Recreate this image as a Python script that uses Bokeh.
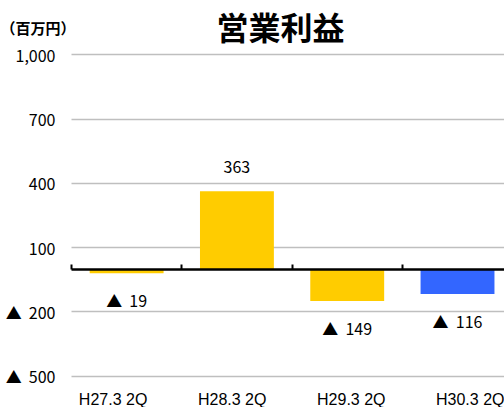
from bokeh.plotting import figure
from bokeh.models import Range1d, FixedTicker, Label, LinearAxis
from bokeh.core.properties import value
from bokeh.embed import file_html
from bokeh.resources import INLINE

# ---- data ----
categories = ["H27.3 2Q", "H28.3 2Q", "H29.3 2Q", "H30.3 2Q"]
profits = [-19, 363, -149, -116]
bar_colors = ["#FFCC00", "#FFCC00", "#FFCC00", "#3366FF"]
y_ticks = [-500, -200, 100, 400, 700, 1000]
y_tick_labels = ["▲\u00a0\u00a0500", "▲\u00a0\u00a0200", "100", "400", "700", "1,000"]
title_text = "営業利益"
unit_text = "（百万円）"

LATIN = "Liberation Sans"
CJK = "Noto Sans CJK JP"
NUM = "Noto Sans CJK JP"

n = len(categories)
xs = [i + 0.5 for i in range(n)]
bounds = list(range(n))
value_labels = [f"{v:,}" if v >= 0 else f"▲\u00a0\u00a0{abs(v):,}" for v in profits]
label_offsets = [-24 if v >= 0 else 27 for v in profits]

X_END = 3.926
p = figure(width=504, height=407, output_backend="svg", toolbar_location=None,
           x_range=Range1d(-0.6437, X_END), y_range=Range1d(-645.5, 1252.8),
           x_axis_location=None,
           min_border_left=0, min_border_right=0, min_border_top=0,
           min_border_bottom=0)
p.outline_line_color = None
p.background_fill_color = "white"
p.border_fill_color = "white"

# y axis drawn at the left edge of the plotting area
p.yaxis.fixed_location = 0
p.yaxis.ticker = FixedTicker(ticks=y_ticks)
p.yaxis.major_label_overrides = {t: l for t, l in zip(y_ticks, y_tick_labels)}
p.yaxis.axis_line_color = None
p.yaxis.major_tick_line_color = None
p.yaxis.minor_tick_line_color = None
p.yaxis.major_tick_out = 0
p.yaxis.major_tick_in = 0
p.yaxis.major_label_standoff = 16
p.yaxis.major_label_text_font = NUM
p.yaxis.major_label_text_font_size = "16px"
p.yaxis.major_label_text_color = "#000000"

p.ygrid.ticker = FixedTicker(ticks=y_ticks)
p.ygrid.cross_bounds = (0, X_END)
p.ygrid.grid_line_color = "#bfbfbf"
p.ygrid.grid_line_width = 1.6
p.xgrid.visible = False

# bars
p.vbar(x=xs, top=profits, bottom=0, width=0.67, fill_color=bar_colors,
       line_color=None)

# zero axis with category boundary ticks
zero_axis = LinearAxis(fixed_location=0, ticker=FixedTicker(ticks=bounds),
                       bounds=(0, X_END))
zero_axis.axis_line_color = "black"
zero_axis.axis_line_width = 2.5
zero_axis.major_tick_line_color = "black"
zero_axis.major_tick_line_width = 2
zero_axis.major_tick_in = 5
zero_axis.major_tick_out = 0
zero_axis.minor_tick_line_color = None
zero_axis.major_label_text_font_size = "0px"
zero_axis.major_label_overrides = {b: "" for b in bounds}
p.add_layout(zero_axis, "below")

# category label axis (own range so labels sit where the reference has them)
p.extra_x_ranges = {"labels": Range1d(-0.9454, 3.2863)}
xaxis = LinearAxis(x_range_name="labels", fixed_location=-556.9,
                   ticker=FixedTicker(ticks=list(range(n))),
                   major_label_overrides={i: c for i, c in enumerate(categories)})
xaxis.axis_line_color = None
xaxis.major_tick_line_color = None
xaxis.minor_tick_line_color = None
xaxis.major_tick_out = 0
xaxis.major_tick_in = 0
xaxis.major_label_standoff = 2
xaxis.major_label_text_font = LATIN
xaxis.major_label_text_font_size = "16px"
xaxis.major_label_text_color = "#000000"
p.add_layout(xaxis, "below")

# value labels
p.text(x=xs, y=profits, text=value_labels, y_offset=label_offsets,
       text_align="center", text_baseline="middle",
       text_font=value(NUM), text_font_size="16px", text_color="#000000")

# title and unit
p.add_layout(Label(x=1.895, y=1133.9, text=title_text, text_align="center",
                   text_baseline="middle", text_font=CJK, text_font_size="32px",
                   text_font_style="bold", text_color="#000000"))
p.add_layout(Label(x=-0.6437, y=1126.9, text=unit_text, text_align="left",
                   text_baseline="middle", text_font=CJK, text_font_size="15px",
                   text_font_style="bold", text_color="#000000"))

open("out.html", "w").write(file_html(p, INLINE))
